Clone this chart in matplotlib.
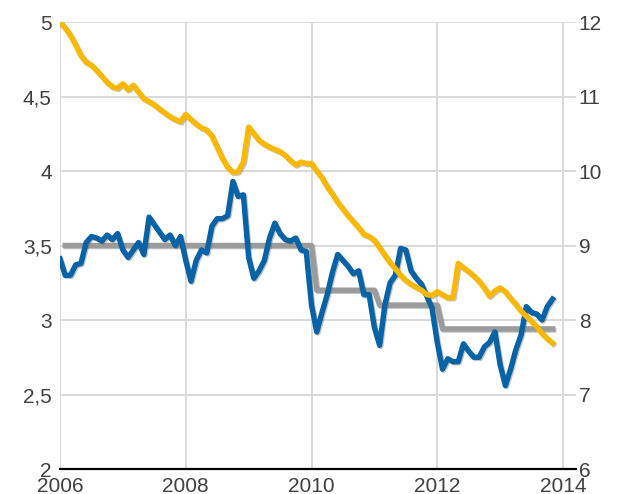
import matplotlib
matplotlib.use("Agg")
import matplotlib.pyplot as plt
import matplotlib.patheffects as pe
import numpy as np
import pandas as pd

plt.rcParams['font.family'] = ['Liberation Sans', 'DejaVu Sans']

# ---- data (monthly, Jan 2006 .. Nov 2013) ----
start_month = "2006-01-01"

blue_vals = [3.41, 3.30, 3.30, 3.37, 3.38, 3.52, 3.56, 3.55, 3.53, 3.57, 3.54, 3.58,
             3.47, 3.42, 3.47, 3.52, 3.44, 3.69, 3.64, 3.59, 3.54, 3.57, 3.50, 3.56,
             3.40, 3.26, 3.40, 3.47, 3.45, 3.63, 3.68, 3.68, 3.70, 3.93, 3.83, 3.84,
             3.42, 3.28, 3.33, 3.40, 3.55, 3.65, 3.58, 3.54, 3.53, 3.55, 3.47, 3.46,
             3.10, 2.92, 3.05, 3.17, 3.32, 3.44, 3.40, 3.36, 3.31, 3.33, 3.17, 3.17,
             2.95, 2.83, 3.10, 3.25, 3.30, 3.48, 3.47, 3.33, 3.28, 3.24, 3.16, 3.08,
             2.85, 2.67, 2.74, 2.72, 2.72, 2.84, 2.79, 2.75, 2.75, 2.82, 2.85, 2.92,
             2.70, 2.56, 2.67, 2.80, 2.90, 3.09, 3.05, 3.04, 3.00, 3.09, 3.14]

# gray step series starts one month later (Feb 2006)
gray_vals = ([3.5] * 48) + ([3.2] * 12) + ([3.1] * 12) + ([2.94] * 22)

yellow_vals = [12.00, 11.92, 11.82, 11.69, 11.55, 11.46, 11.42, 11.35, 11.27, 11.19, 11.13, 11.11,
               11.17, 11.09, 11.15, 11.06, 10.97, 10.93, 10.89, 10.83, 10.78, 10.73, 10.69, 10.66,
               10.76, 10.69, 10.63, 10.58, 10.55, 10.47, 10.32, 10.17, 10.05, 9.98, 9.99, 10.12,
               10.59, 10.50, 10.41, 10.36, 10.32, 10.29, 10.26, 10.21, 10.14, 10.08, 10.12, 10.10,
               10.10, 10.00, 9.91, 9.79, 9.69, 9.58, 9.49, 9.40, 9.32, 9.24, 9.15, 9.12,
               9.07, 8.97, 8.87, 8.77, 8.69, 8.60, 8.53, 8.48, 8.44, 8.40, 8.34, 8.33,
               8.38, 8.34, 8.30, 8.30, 8.76, 8.70, 8.65, 8.59, 8.52, 8.43, 8.32, 8.39,
               8.43, 8.38, 8.29, 8.21, 8.12, 8.05, 7.98, 7.91, 7.82, 7.75, 7.69]

left_ticks = [2, 2.5, 3, 3.5, 4, 4.5, 5]
left_labels = ["2", "2,5", "3", "3,5", "4", "4,5", "5"]
right_ticks = [6, 7, 8, 9, 10, 11, 12]
right_labels = ["6", "7", "8", "9", "10", "11", "12"]
x_ticks = [2006, 2008, 2010, 2012, 2014]
x_labels = ["2006", "2008", "2010", "2012", "2014"]

# ---- x positions (decimal years) ----
dates = pd.date_range(start_month, periods=len(blue_vals), freq="MS")
xs = np.asarray(dates.year + (dates.month - 1) / 12.0, dtype=float)
xs_gray = xs[1:1 + len(gray_vals)]

# ---- figure ----
W, H = 617, 494
fig = plt.figure(figsize=(W / 100, H / 100), dpi=100)
ax = fig.add_axes([60 / W, (H - 469) / H, (576 - 60) / W, (469 - 22) / H])
ax2 = ax.twinx()

txt_col = "#404040"
grid_col = "#d9d9d9"
lw = 3.9

shadow = [pe.SimpleLineShadow(offset=(0.8, -0.8), shadow_color="#555555", alpha=0.35), pe.Normal()]

ax.plot(xs_gray, gray_vals, color="#9b9b9b", lw=lw, solid_joinstyle="round",
        path_effects=shadow, zorder=3)
ax.plot(xs, blue_vals, color="#0763a6", lw=lw, solid_joinstyle="round",
        path_effects=shadow, zorder=4)
ax2.plot(xs, yellow_vals, color="#fbb800", lw=lw, solid_joinstyle="round",
         path_effects=shadow, zorder=5)

ax.set_xlim(2006, 2014 + 13 / 62.9)
ax.set_ylim(2, 5)
ax2.set_ylim(6, 12)

ax.set_yticks(left_ticks)
ax.set_yticklabels(left_labels)
ax2.set_yticks(right_ticks)
ax2.set_yticklabels(right_labels)
ax.set_xticks(x_ticks)
ax.set_xticklabels(x_labels)

ax.grid(True, color=grid_col, lw=1.4, zorder=0)
ax.set_axisbelow(True)

for a in (ax, ax2):
    for s in ("top", "left", "right", "bottom"):
        a.spines[s].set_visible(False)
ax.spines["bottom"].set_visible(True)
ax.spines["bottom"].set_color("black")
ax.spines["bottom"].set_linewidth(1.6)
ax.spines["bottom"].set_zorder(6)

ax.tick_params(axis="y", length=0, pad=6, labelsize=15, labelcolor=txt_col)
ax2.tick_params(axis="y", length=0, pad=2, labelsize=15, labelcolor=txt_col)
ax.tick_params(axis="x", length=0, pad=5.5, labelsize=15, labelcolor=txt_col)

fig.savefig("out.png", dpi=100)
